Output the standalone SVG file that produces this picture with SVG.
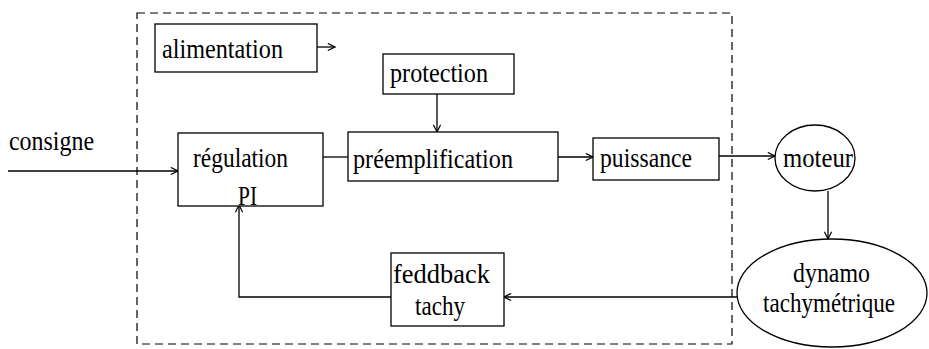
<svg xmlns="http://www.w3.org/2000/svg" width="929" height="349" viewBox="0 0 929 349">
<defs>
<style>
.box{fill:#fff;stroke:#000;stroke-width:1.3}
.ell{fill:#fff;stroke:#000;stroke-width:1.3}
.t{font-family:"Liberation Serif","DejaVu Serif",serif;font-size:27px;fill:#000}
.c{fill:none;stroke:#000;stroke-width:1.3}
.dash{fill:none;stroke:#000;stroke-width:1.2;stroke-dasharray:8 5}
</style>
<marker id="arr" viewBox="0 0 10 10" refX="9" refY="5" markerWidth="9" markerHeight="9" markerUnits="userSpaceOnUse" orient="auto">
<path d="M1,1 L9,5 L1,9" fill="none" stroke="#000" stroke-width="1.3"/>
</marker>
</defs>
<rect width="929" height="349" fill="#fff"/>
<rect id="frontiere" class="dash" x="137" y="13" width="595" height="331"/>
<g id="connectors">
<line class="c" x1="317" y1="47" x2="335" y2="47" marker-end="url(#arr)"/>
<line class="c" x1="8" y1="171" x2="178" y2="171" marker-end="url(#arr)"/>
<line class="c" x1="323" y1="157" x2="348" y2="157"/>
<line class="c" x1="437" y1="94" x2="437" y2="132" marker-end="url(#arr)"/>
<line class="c" x1="558" y1="157" x2="593" y2="157" marker-end="url(#arr)"/>
<line class="c" x1="719" y1="156" x2="775" y2="156" marker-end="url(#arr)"/>
<line class="c" x1="828" y1="191" x2="828" y2="239" marker-end="url(#arr)"/>
<line class="c" x1="737" y1="297" x2="504" y2="297" marker-end="url(#arr)"/>
<polyline class="c" points="391,297 239,297 239,205" marker-end="url(#arr)"/>
</g>
<g id="consigne"><text class="t" x="9" y="150" textLength="85" lengthAdjust="spacingAndGlyphs">consigne</text></g>
<g id="alimentation">
<rect class="box" x="155" y="24" width="162" height="48"/>
<text class="t" x="162" y="58" textLength="121" lengthAdjust="spacingAndGlyphs">alimentation</text>
</g>
<g id="protection">
<rect class="box" x="383" y="54" width="131" height="40"/>
<text class="t" x="390" y="82" textLength="98" lengthAdjust="spacingAndGlyphs">protection</text>
</g>
<g id="regulation">
<rect class="box" x="178" y="133" width="145" height="73"/>
<text class="t" x="193" y="167" textLength="95" lengthAdjust="spacingAndGlyphs">régulation</text>
<text class="t" x="238" y="205" textLength="19" lengthAdjust="spacingAndGlyphs">PI</text>
</g>
<g id="preemplification">
<rect class="box" x="348" y="132" width="210" height="49"/>
<text class="t" x="353" y="168" textLength="160" lengthAdjust="spacingAndGlyphs">préemplification</text>
</g>
<g id="puissance">
<rect class="box" x="593" y="138" width="126" height="42"/>
<text class="t" x="600" y="167" textLength="92" lengthAdjust="spacingAndGlyphs">puissance</text>
</g>
<g id="moteur">
<ellipse class="ell" cx="815" cy="158" rx="40" ry="33"/>
<text class="t" x="783" y="167" textLength="70" lengthAdjust="spacingAndGlyphs">moteur</text>
</g>
<g id="dynamo">
<ellipse class="ell" cx="832" cy="293" rx="95" ry="54"/>
<text class="t" x="793" y="282" textLength="77" lengthAdjust="spacingAndGlyphs">dynamo</text>
<text class="t" x="763" y="312" textLength="132" lengthAdjust="spacingAndGlyphs">tachymétrique</text>
</g>
<g id="feedback">
<rect class="box" x="391" y="253" width="113" height="73"/>
<text class="t" x="393" y="283" textLength="97" lengthAdjust="spacingAndGlyphs">feddback</text>
<text class="t" x="415" y="315" textLength="50" lengthAdjust="spacingAndGlyphs">tachy</text>
</g>
</svg>
